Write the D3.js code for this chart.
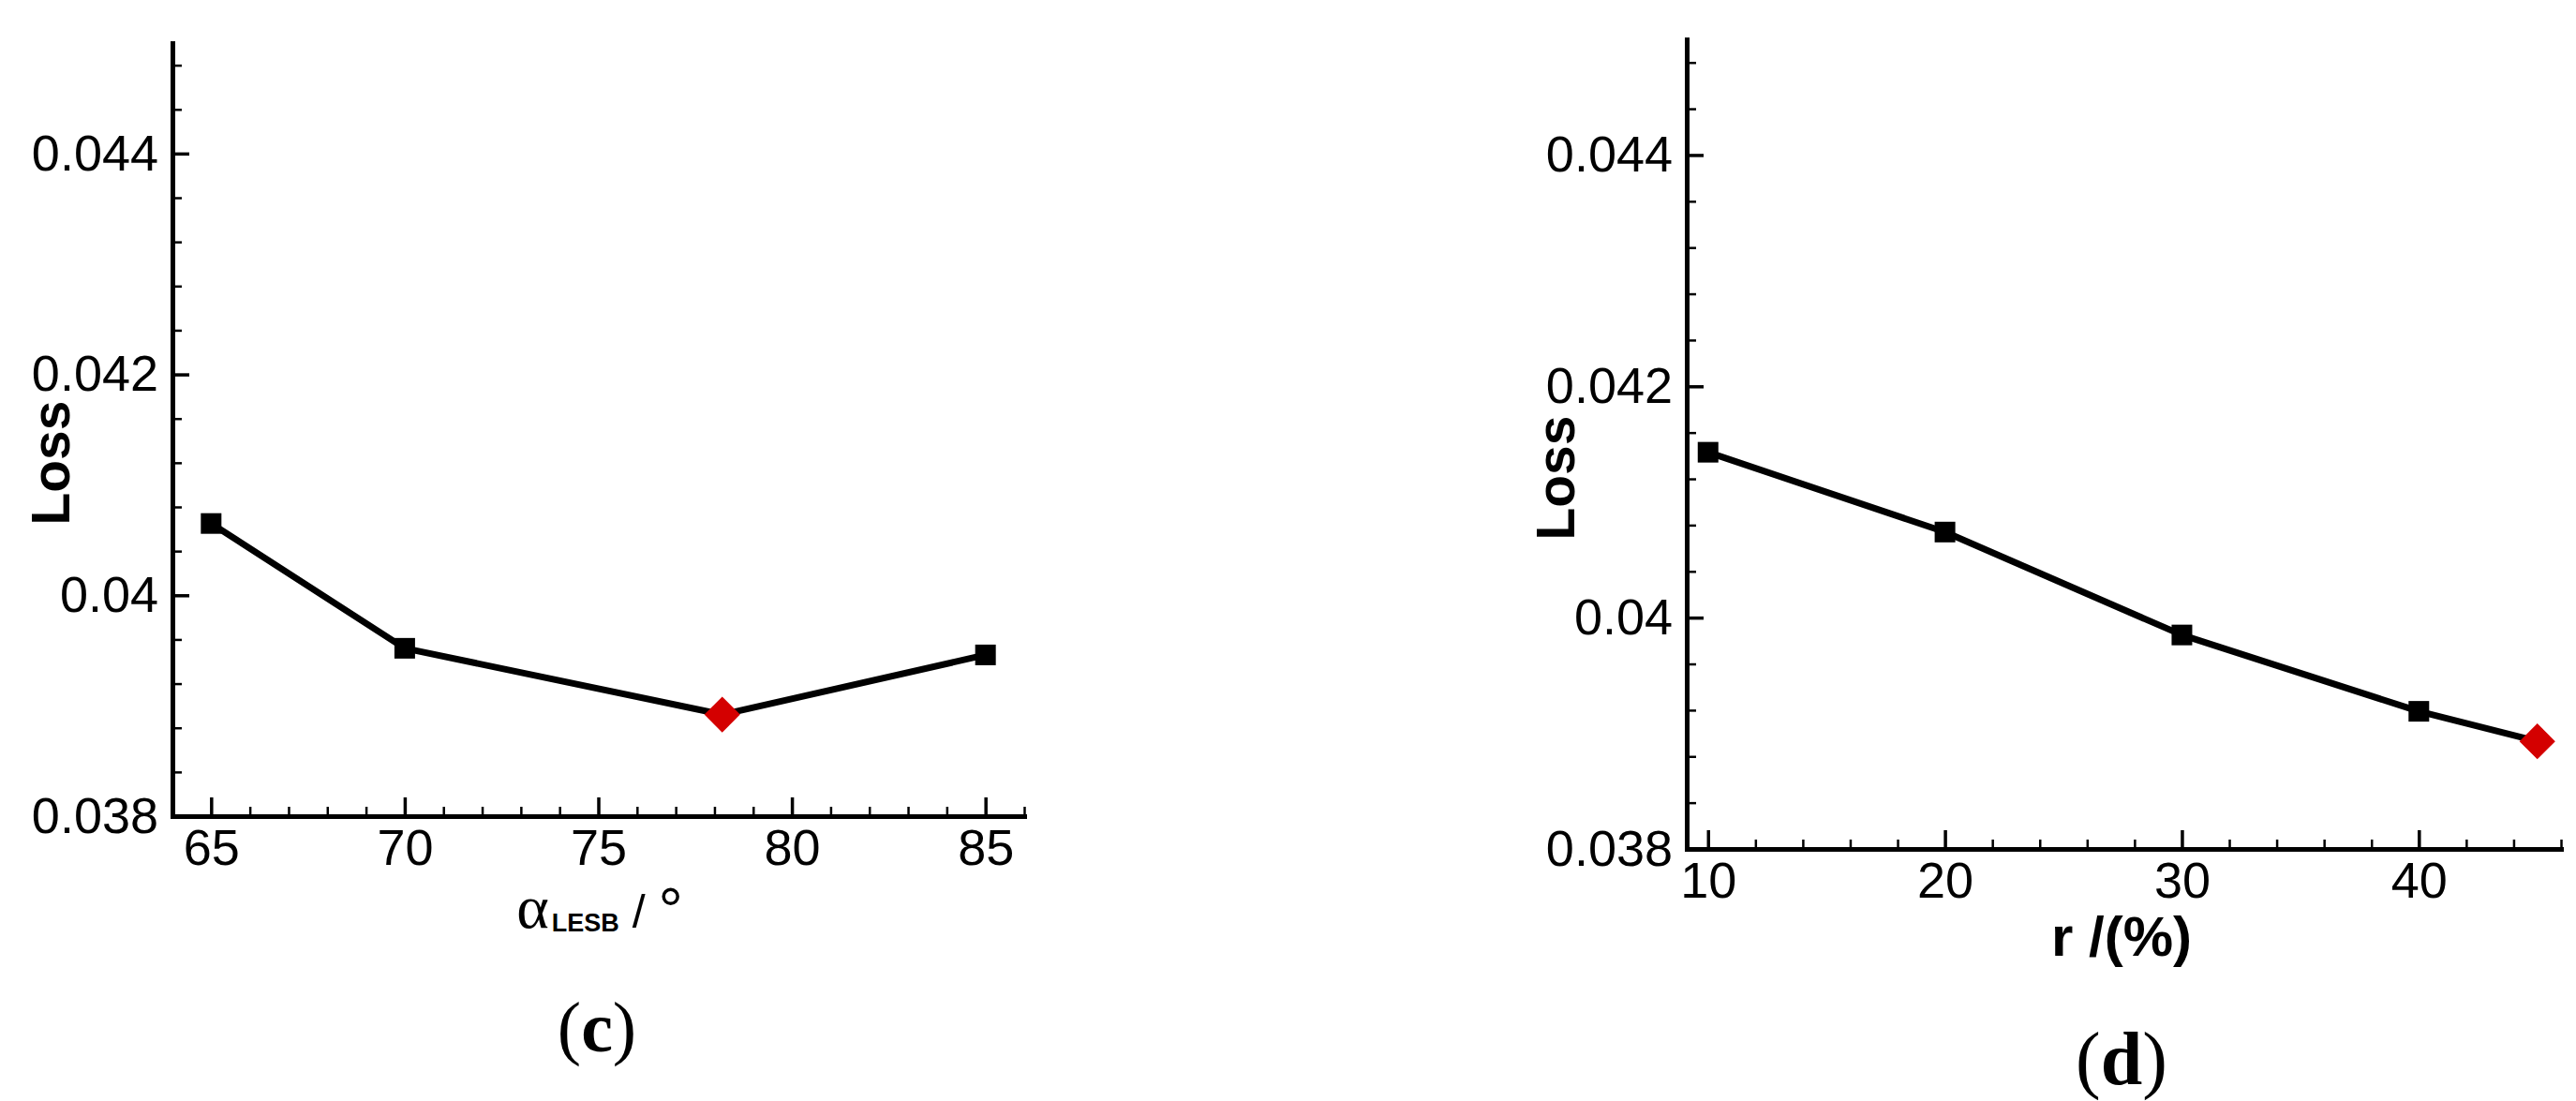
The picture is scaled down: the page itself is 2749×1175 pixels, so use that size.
<!DOCTYPE html>
<html>
<head>
<meta charset="utf-8">
<script src="https://cdn.jsdelivr.net/npm/d3@7/dist/d3.min.js"></script>
<style>
  html, body { margin: 0; padding: 0; background: #fff; }
  svg { display: block; }
</style>
</head>
<body>
<svg id="chart" width="2749" height="1175"></svg>
<script>
// ---- Data ----
// Panel (c): loss vs leading-edge blade angle
const alphaValues = [65, 70, 78.2, 85];
const lossC = [0.04065, 0.03952, 0.03892, 0.03946];
const optimalC = 2;           // index of the red (optimal) point
const alphaMajorTicks = [65, 70, 75, 80, 85];
const alphaMinorTicks = [64, 66, 67, 68, 69, 71, 72, 73, 74, 76, 77, 78, 79, 81, 82, 83, 84, 86];

// Panel (d): loss vs r
const rValues = [10, 20, 30, 40, 45];
const lossD = [0.04143, 0.04074, 0.03985, 0.03919, 0.03893];
const optimalD = 4;
const rMajorTicks = [10, 20, 30, 40];
const rMinorTicks = [12, 14, 16, 18, 22, 24, 26, 28, 32, 34, 36, 38, 42, 44, 46];

// Shared y ticks
const lossMajorTicks = [0.038, 0.040, 0.042, 0.044];
const lossMinorTicks = [0.0384, 0.0388, 0.0392, 0.0396, 0.0404, 0.0408, 0.0412, 0.0416,
                        0.0424, 0.0428, 0.0432, 0.0436, 0.0444, 0.0448];
const lossTickLabels = ["0.038", "0.04", "0.042", "0.044"];

const svg = d3.select("#chart");
const TICK_FONT = "'Liberation Sans', Arial, sans-serif";
const SERIF = "'Liberation Serif', 'Times New Roman', serif";

function drawPanel(cfg) {
  const g = svg.append("g");
  const x = d3.scaleLinear().domain(cfg.xDomain).range([cfg.left, cfg.right]);
  const y = d3.scaleLinear().domain([0.038, 0.045]).range([cfg.bottom, cfg.top]);

  // minor ticks
  g.append("g")
    .attr("transform", `translate(0,${cfg.bottom})`)
    .call(d3.axisBottom(x).tickValues(cfg.xMinor).tickSize(-10).tickFormat(""))
    .call(s => s.select(".domain").remove())
    .call(s => s.selectAll("line").attr("stroke", "#000").attr("stroke-width", 2.5));
  g.append("g")
    .attr("transform", `translate(${cfg.left},0)`)
    .call(d3.axisLeft(y).tickValues(lossMinorTicks).tickSize(-10).tickFormat(""))
    .call(s => s.select(".domain").remove())
    .call(s => s.selectAll("line").attr("stroke", "#000").attr("stroke-width", 2.5));

  // major x axis
  g.append("g")
    .attr("transform", `translate(0,${cfg.bottom})`)
    .call(d3.axisBottom(x).tickValues(cfg.xMajor).tickSizeInner(-20).tickSizeOuter(0).tickPadding(14))
    .call(s => s.select(".domain").attr("stroke", "#000").attr("stroke-width", 5).attr("stroke-linecap", "square"))
    .call(s => s.selectAll(".tick line").attr("stroke", "#000").attr("stroke-width", 3.5))
    .call(s => s.selectAll(".tick text").attr("font-family", TICK_FONT).attr("font-size", 54).attr("fill", "#000"));

  // major y axis
  g.append("g")
    .attr("transform", `translate(${cfg.left},0)`)
    .call(d3.axisLeft(y).tickValues(lossMajorTicks).tickSizeInner(-18).tickSizeOuter(0).tickPadding(15)
      .tickFormat((d, i) => lossTickLabels[i]))
    .call(s => s.select(".domain").attr("stroke", "#000").attr("stroke-width", 5).attr("stroke-linecap", "square"))
    .call(s => s.selectAll(".tick line").attr("stroke", "#000").attr("stroke-width", 3.5))
    .call(s => s.selectAll(".tick text").attr("font-family", TICK_FONT).attr("font-size", 54).attr("fill", "#000"));

  // data line
  const pts = cfg.xs.map((v, i) => [v, cfg.ys[i]]);
  g.append("path")
    .datum(pts)
    .attr("fill", "none")
    .attr("stroke", "#000")
    .attr("stroke-width", 7)
    .attr("stroke-linejoin", "round")
    .attr("d", d3.line().x(d => x(d[0])).y(d => y(d[1])));

  // square markers
  const sq = 22;
  g.selectAll("rect.m")
    .data(pts.filter((d, i) => i !== cfg.opt))
    .join("rect")
    .attr("x", d => x(d[0]) - sq / 2)
    .attr("y", d => y(d[1]) - sq / 2)
    .attr("width", sq).attr("height", sq)
    .attr("fill", "#000");

  // red diamond for optimum
  const o = pts[cfg.opt];
  g.append("path")
    .attr("d", d3.symbol().type(d3.symbolSquare).size(27 * 27)())
    .attr("transform", `translate(${x(o[0])},${y(o[1])}) rotate(45)`)
    .attr("fill", "#d40000");

  // y label
  g.append("text")
    .attr("transform", `translate(${cfg.yLabelX},${cfg.yLabelY}) rotate(-90)`)
    .attr("text-anchor", "middle")
    .attr("font-family", TICK_FONT)
    .attr("font-weight", "bold")
    .attr("font-size", 57)
    .text("Loss");

  return { x, y, g };
}

// Panel (c)
const pc = drawPanel({
  left: 184, right: 1093, top: 46, bottom: 871,
  xDomain: [64, 86], xMajor: alphaMajorTicks, xMinor: alphaMinorTicks,
  xs: alphaValues, ys: lossC, opt: optimalC,
  yLabelX: 74, yLabelY: 494
});
// x label: alpha_LESB / °
const xl = pc.g.append("text")
  .attr("x", 640)
  .attr("y", 990)
  .attr("text-anchor", "middle")
  .attr("fill", "#000");
xl.append("tspan").attr("font-family", SERIF).attr("font-size", 66).text("α");
xl.append("tspan").attr("font-family", TICK_FONT).attr("font-weight", "bold").attr("font-size", 27).attr("dy", 4).attr("dx", 3).text("LESB");
xl.append("tspan").attr("font-family", TICK_FONT).attr("font-size", 50).attr("dy", -4).text(" / ");
xl.append("tspan").attr("font-family", TICK_FONT).attr("font-size", 66).attr("dy", 4).text("°");

pc.g.append("text")
  .attr("x", 637).attr("y", 1122)
  .attr("text-anchor", "middle")
  .attr("font-family", SERIF)
  .attr("font-size", 76)
  .call(t => {
    t.append("tspan").text("(");
    t.append("tspan").attr("font-weight", "bold").text("c");
    t.append("tspan").text(")");
  });

// Panel (d)
const pd = drawPanel({
  left: 1800, right: 2733, top: 42, bottom: 906,
  xDomain: [9.1, 46], xMajor: rMajorTicks, xMinor: rMinorTicks,
  xs: rValues, ys: lossD, opt: optimalD,
  yLabelX: 1680, yLabelY: 510
});
pd.g.append("text")
  .attr("x", 2264).attr("y", 1020)
  .attr("text-anchor", "middle")
  .attr("font-family", TICK_FONT)
  .attr("font-weight", "bold")
  .attr("font-size", 60)
  .text("r /(%)");

pd.g.append("text")
  .attr("x", 2264).attr("y", 1157)
  .attr("text-anchor", "middle")
  .attr("font-family", SERIF)
  .attr("font-size", 80)
  .call(t => {
    t.append("tspan").text("(");
    t.append("tspan").attr("font-weight", "bold").text("d");
    t.append("tspan").text(")");
  });
</script>
</body>
</html>
